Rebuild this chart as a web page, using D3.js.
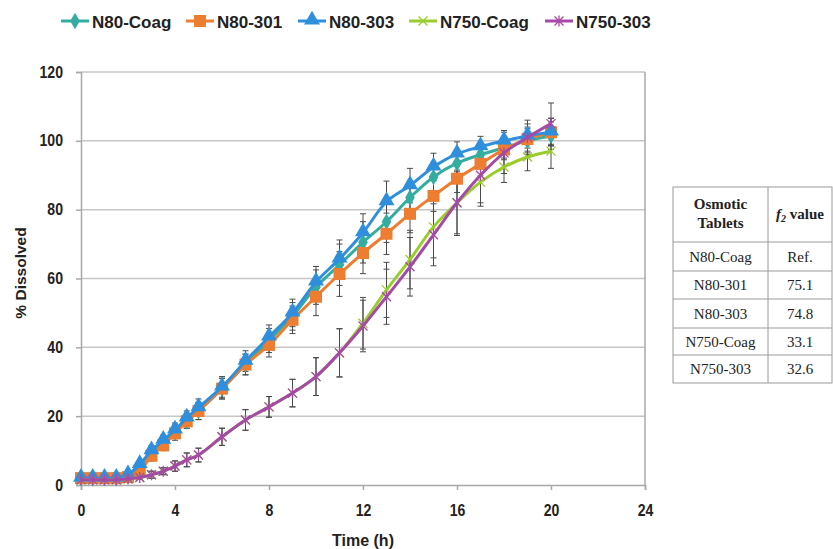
<!DOCTYPE html>
<meta charset="utf-8">
<script src="https://d3js.org/d3.v7.min.js"></script>
<html>
<head>
<style>
body { margin: 0; background: white; }
.tick text { font-family: "Liberation Sans", Arial, sans-serif; font-weight: bold; font-size: 16px; fill: #222; }
</style>
</head>
<body>
<div id="my_dataviz"></div>
<script>

// sampling times (h)
var time = [0, 0.5, 1, 1.5, 2, 2.5, 3, 3.5, 4, 4.5, 5, 6, 7, 8, 9, 10, 11, 12, 13, 14, 15, 16, 17, 18, 19, 20];

// % dissolved for each tablet
var n80Coag  = [2, 2, 2, 2, 2.5, 4.5, 9, 12, 15.5, 18.5, 21.5, 28, 35, 42, 49, 57.5, 64, 70.5, 76.5, 83.5, 89.5, 93.5, 96, 98, 100, 101.5];
var n80301   = [2, 2, 2, 2, 2.3, 4, 8.5, 11.5, 15, 18.5, 21.5, 28, 35, 40.7, 48, 54.7, 61.3, 67.4, 73, 78.8, 84, 89, 93.3, 97.5, 100.5, 102.5];
var n80303   = [2, 2, 2, 2, 3, 6, 10, 13, 16, 19.5, 22.5, 28.5, 36, 43, 50, 59, 65.7, 73.3, 82.3, 87, 92.4, 96.2, 98.3, 100, 101.4, 102.6];
var n750Coag = [1.5, 1.5, 1.5, 1.5, 1.8, 2.2, 3, 4, 5.5, 7.3, 8.7, 14, 18.9, 22.7, 26.7, 31.5, 38.4, 47, 56.7, 65.5, 75, 82, 88, 92.4, 95.3, 97];
var n750303  = [1.5, 1.5, 1.5, 1.5, 1.8, 2.2, 3, 4, 5.5, 7.3, 8.7, 14, 18.9, 22.7, 26.7, 31.5, 38.4, 46.2, 54.7, 63.4, 72.7, 82, 90, 96.5, 101, 105];

// standard deviations (error bars)
var sdN80Coag  = [0.5, 0.5, 0.5, 0.5, 0.5, 1, 1.5, 1.5, 2, 2, 2.5, 3, 3, 3.5, 4, 5, 6, 6, 6, 5, 4, 3.5, 3, 3, 3.5, 4];
var sdN80301   = [0.5, 0.5, 0.5, 0.5, 0.5, 1, 1.5, 1.5, 2, 2, 2.5, 3, 3, 3.5, 4, 5.5, 6.5, 6, 6, 5.5, 4.5, 4, 3.5, 3, 3.5, 4];
var sdN80303   = [0.5, 0.5, 0.5, 0.5, 0.5, 1, 1.5, 1.5, 2, 2, 2.5, 3, 3, 3.5, 4, 4.5, 5.5, 5.5, 6, 5, 4, 3.5, 3, 3, 3.5, 4];
var sdN750Coag = [0.5, 0.5, 0.5, 0.5, 0.5, 0.5, 1, 1, 1.5, 2, 2, 2.5, 3, 3, 4, 5.5, 7, 7.5, 8, 8.5, 9, 9, 7, 4.5, 4, 5];
var sdN750303  = [0.5, 0.5, 0.5, 0.5, 0.5, 0.5, 1, 1, 1.5, 2, 2, 2.5, 3, 3, 4, 5.5, 7, 7.5, 8, 8.5, 9, 9.5, 8, 6, 5, 6];

// legend names, colours, marker shapes
var names   = ["N80-Coag", "N80-301", "N80-303", "N750-Coag", "N750-303"];
var colors  = ["#35aca0", "#ed7d31", "#2f8fdc", "#9acd2c", "#a54aa6"];
var shapes  = ["diamond", "square", "triangle", "x", "star"];
var values  = [n80Coag, n80301, n80303, n750Coag, n750303];
var sds     = [sdN80Coag, sdN80301, sdN80303, sdN750Coag, sdN750303];

// f2 table
var tableNames = ["N80-Coag", "N80-301", "N80-303", "N750-Coag", "N750-303"];
var tableF2    = ["Ref.", "75.1", "74.8", "33.1", "32.6"];

var xTicks = [0, 4, 8, 12, 16, 20, 24];
var yTicks = [0, 20, 40, 60, 80, 100, 120];

var W = 833, H = 549;
var squeeze = 0.88;   // tick numbers in the original are a bit narrow

var svg = d3.select("#my_dataviz")
  .append("svg")
    .attr("width", W)
    .attr("height", H)
    .style("font-family", "'Liberation Sans', Arial, sans-serif");

svg.append("rect").attr("width", W).attr("height", H).attr("fill", "white");

var x = d3.scaleLinear().domain([0, 24]).range([81, 645]);
var y = d3.scaleLinear().domain([0, 120]).range([485, 72]);

// gridlines
svg.append("g")
  .selectAll("line")
  .data(yTicks.filter(function(d) { return d > 0; }))
  .enter()
  .append("line")
    .attr("x1", x(0)).attr("x2", x(24))
    .attr("y1", function(d) { return y(d); })
    .attr("y2", function(d) { return y(d); })
    .attr("stroke", "#c6c6c6")
    .attr("stroke-width", 1.5);

// right border
svg.append("line")
  .attr("x1", x(24)).attr("x2", x(24))
  .attr("y1", y(120)).attr("y2", y(0))
  .attr("stroke", "#a8a8a8").attr("stroke-width", 1.5);

// axes
var xAxis = svg.append("g")
  .attr("transform", "translate(0," + y(0) + ")")
  .call(d3.axisBottom(x).tickValues(xTicks).tickSize(5).tickPadding(15));
var yAxis = svg.append("g")
  .attr("transform", "translate(" + x(0) + ",0)")
  .call(d3.axisLeft(y).tickValues(yTicks).tickSize(5).tickPadding(15.5));
[xAxis, yAxis].forEach(function(a) {
  a.select(".domain").attr("stroke", "#a8a8a8").attr("stroke-width", 1.5);
  a.selectAll(".tick line").attr("stroke", "#a8a8a8").attr("stroke-width", 1.5);
  a.selectAll(".tick text").attr("transform", "scale(" + squeeze + ",1)");
});

// axis titles
svg.append("text")
  .attr("x", 363).attr("y", 546)
  .attr("text-anchor", "middle")
  .style("font-weight", "bold").style("font-size", "16px").attr("fill", "#222")
  .text("Time (h)");
svg.append("text")
  .attr("transform", "translate(26,273) rotate(-90)")
  .attr("text-anchor", "middle")
  .style("font-weight", "bold").style("font-size", "15.5px").attr("fill", "#222")
  .text("% Dissolved");

// marker drawing
function marker(g, shape, color, cx, cy) {
  if (shape === "diamond") {
    g.append("path").attr("d", d3.symbol().type(d3.symbolDiamond).size(80)())
      .attr("transform", "translate(" + cx + "," + cy + ")").attr("fill", color);
  } else if (shape === "square") {
    g.append("rect").attr("x", cx - 6).attr("y", cy - 6).attr("width", 12).attr("height", 12).attr("fill", color);
  } else if (shape === "triangle") {
    g.append("path").attr("d", d3.symbol().type(d3.symbolTriangle).size(110)())
      .attr("transform", "translate(" + cx + "," + (cy - 1) + ")").attr("fill", color);
  } else if (shape === "x") {
    g.append("path").attr("d", "M-4.5,-4.5L4.5,4.5M-4.5,4.5L4.5,-4.5")
      .attr("transform", "translate(" + cx + "," + cy + ")")
      .attr("stroke", color).attr("stroke-width", 1.3).attr("fill", "none");
  } else {
    g.append("path").attr("d", "M-4.5,-4.5L4.5,4.5M-4.5,4.5L4.5,-4.5M0,-5.5L0,5.5")
      .attr("transform", "translate(" + cx + "," + cy + ")")
      .attr("stroke", color).attr("stroke-width", 1.3).attr("fill", "none");
  }
}

var line = d3.line()
  .curve(d3.curveCatmullRom)
  .x(function(d) { return x(d[0]); })
  .y(function(d) { return y(d[1]); });

// error bars
var eb = svg.append("g").attr("stroke", "#4a4a4a").attr("stroke-width", 1);
values.forEach(function(vals, s) {
  vals.forEach(function(v, i) {
    var cx = x(time[i]), lo = y(v - sds[s][i]), hi = y(v + sds[s][i]);
    eb.append("line").attr("x1", cx).attr("x2", cx).attr("y1", lo).attr("y2", hi);
    eb.append("line").attr("x1", cx - 3).attr("x2", cx + 3).attr("y1", lo).attr("y2", lo);
    eb.append("line").attr("x1", cx - 3).attr("x2", cx + 3).attr("y1", hi).attr("y2", hi);
  });
});

// series lines + markers
values.forEach(function(vals, s) {
  var g = svg.append("g");
  var pts = vals.map(function(v, i) { return [time[i], v]; });
  g.append("path")
    .datum(pts)
    .attr("fill", "none")
    .attr("stroke", colors[s])
    .attr("stroke-width", 3)
    .attr("d", line);
  pts.forEach(function(p) { marker(g, shapes[s], colors[s], x(p[0]), y(p[1])); });
});

// legend
var legX = [61, 186, 298, 409, 545];
names.forEach(function(n, s) {
  var g = svg.append("g");
  g.append("line").attr("x1", legX[s]).attr("x2", legX[s] + 28).attr("y1", 21).attr("y2", 21)
    .attr("stroke", colors[s]).attr("stroke-width", 3);
  marker(g, shapes[s], colors[s], legX[s] + 14, 21);
  g.append("text").attr("x", legX[s] + 31).attr("y", 27.5)
    .style("font-weight", "bold").style("font-size", "17px").attr("fill", "#222")
    .text(n);
});

// f2 table
var tX0 = 673, tX1 = 768, tX2 = 832;
var rowY = [187, 242, 271, 299, 328, 355, 383];
var tbl = svg.append("g").style("font-family", "'Liberation Serif', 'Times New Roman', serif").attr("fill", "#222");
tbl.append("rect").attr("x", tX0).attr("y", rowY[0]).attr("width", tX2 - tX0).attr("height", rowY[6] - rowY[0])
  .attr("fill", "white").attr("stroke", "#9a9a9a").attr("stroke-width", 1);
tbl.append("line").attr("x1", tX1).attr("x2", tX1).attr("y1", rowY[0]).attr("y2", rowY[6]).attr("stroke", "#9a9a9a");
rowY.slice(1, 6).forEach(function(ry) {
  tbl.append("line").attr("x1", tX0).attr("x2", tX2).attr("y1", ry).attr("y2", ry).attr("stroke", "#9a9a9a");
});
tbl.append("text").attr("x", (tX0 + tX1) / 2).attr("y", 209).attr("text-anchor", "middle")
  .style("font-weight", "bold").style("font-size", "15px").text("Osmotic");
tbl.append("text").attr("x", (tX0 + tX1) / 2).attr("y", 228).attr("text-anchor", "middle")
  .style("font-weight", "bold").style("font-size", "15px").text("Tablets");
var f2 = tbl.append("text").attr("x", (tX1 + tX2) / 2).attr("y", 219).attr("text-anchor", "middle")
  .style("font-weight", "bold").style("font-size", "15px");
f2.append("tspan").style("font-style", "italic").text("f");
f2.append("tspan").style("font-style", "italic").style("font-size", "10px").attr("dy", 3).text("2");
f2.append("tspan").attr("dy", -3).text(" value");
tableNames.forEach(function(n, i) {
  var cy = (rowY[i + 1] + rowY[i + 2]) / 2 + 5;
  tbl.append("text").attr("x", (tX0 + tX1) / 2).attr("y", cy).attr("text-anchor", "middle")
    .style("font-size", "15px").text(n);
  tbl.append("text").attr("x", (tX1 + tX2) / 2).attr("y", cy).attr("text-anchor", "middle")
    .style("font-size", "15px").text(tableF2[i]);
});

</script>
</body>
</html>
